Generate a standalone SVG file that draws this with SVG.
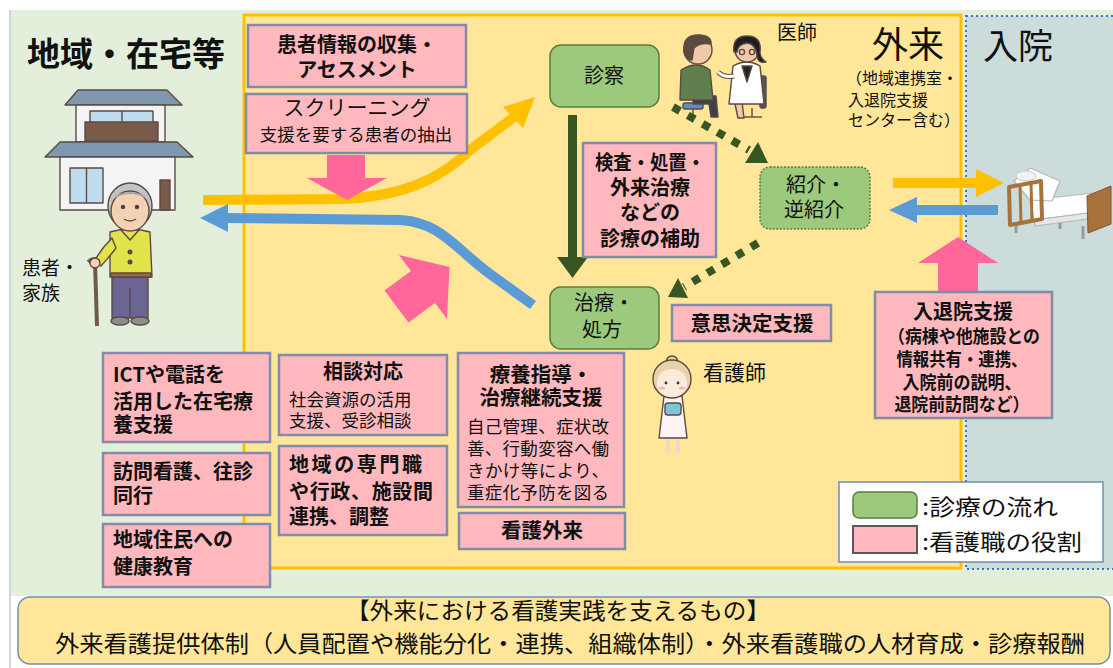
<svg xmlns="http://www.w3.org/2000/svg" width="1113" height="668" viewBox="0 0 1113 668">
<style>
  text { font-family: "Noto Sans CJK JP", "Noto Sans", sans-serif; fill: #111; }
  .role { fill: #FFB9BE; stroke: #7F8CAB; stroke-width: 2.5; }
  .flow { fill: #9DC97C; stroke: #5A7F3C; stroke-width: 1.5; }
  .b20 { font-size: 20px; font-weight: bold; }
  .b21 { font-size: 20.5px; font-weight: bold; }
  .n17 { font-size: 17.5px; }
  .n20 { font-size: 20px; }
  .c { text-anchor: middle; }
  .pinkArrow { fill: #FF6699; }
  .dots { fill: none; stroke: #375623; stroke-width: 8; stroke-dasharray: 8 9; }
  .outline { stroke: #5b4a44; stroke-width: 1.4; stroke-linejoin: round; }
</style>

<!-- backgrounds -->
<rect x="0" y="0" width="1113" height="668" fill="#FFFFFF"/>
<rect x="11" y="10" width="1102" height="586" fill="#E3EFDB"/>
<line x1="10" y1="10" x2="10" y2="668" stroke="#C8C8C8" stroke-width="1.5"/>
<g id="outpatient-area">
  <rect x="244" y="15" width="717" height="553" fill="#FFE699" stroke="#FFC000" stroke-width="3"/>
</g>
<g id="inpatient-area">
  <rect x="966" y="16" width="150" height="553" fill="#CCDCDB" stroke="#4472C4" stroke-width="2" stroke-dasharray="2 3"/>
</g>

<!-- area titles -->
<text x="27" y="66" font-size="33" font-weight="bold">地域・在宅等</text>
<text x="872" y="58" font-size="36">外来</text>
<text x="983" y="59" font-size="35">入院</text>
<text font-size="16"><tspan x="846" y="84">（地域連携室・</tspan><tspan x="848" y="106">入退院支援</tspan><tspan x="848" y="126">センター含む）</tspan></text>
<text x="777" y="40" font-size="20">医師</text>
<text font-size="19"><tspan x="22" y="275">患者・</tspan><tspan x="22" y="300">家族</tspan></text>
<text x="703" y="380" font-size="21">看護師</text>

<!-- house -->
<g id="house" class="outline">
  <polygon points="78,90 167,90 182,105 65,105" fill="#7F97AF"/>
  <rect x="76" y="105" width="89" height="37" fill="#F4F4F4"/>
  <rect x="90" y="111" width="63" height="13" fill="#BFDDEF"/>
  <line x1="122" y1="111" x2="122" y2="124"/>
  <rect x="85" y="122" width="73" height="19" fill="#7A5A48"/>
  <polygon points="60,142 177,142 193,157 45,157" fill="#7F97AF"/>
  <rect x="60" y="157" width="115" height="53" fill="#F4F4F4"/>
  <rect x="70" y="168" width="33" height="35" fill="#BFDDEF"/>
  <line x1="86.5" y1="168" x2="86.5" y2="203"/>
  <rect x="160" y="180" width="10" height="30" fill="#7A5A48"/>
</g>

<!-- elderly patient -->
<g id="patient-family" class="outline">
  <line x1="95" y1="262" x2="97" y2="326" stroke="#6E5A4A" stroke-width="4"/>
  <path d="M88,262 Q95,256 100,262" fill="none" stroke="#6E5A4A" stroke-width="4"/>
  <rect x="112" y="276" width="36" height="42" fill="#6B6593"/>
  <line x1="130" y1="288" x2="130" y2="318"/>
  <ellipse cx="120" cy="321" rx="9" ry="4" fill="#8E8E8E"/>
  <ellipse cx="140" cy="321" rx="9" ry="4" fill="#8E8E8E"/>
  <path d="M110,232 Q130,226 150,232 L152,277 L110,277 Z" fill="#E2E34A"/>
  <path d="M112,238 Q100,250 94,262 L101,266 Q110,256 116,248 Z" fill="#E2E34A"/>
  <circle cx="95" cy="263" r="5" fill="#F3D2B4"/>
  <path d="M121,230 L130,240 L139,230 Z" fill="#E2E34A"/>
  <circle cx="130" cy="252" r="1.8" fill="#5b4a44"/>
  <circle cx="130" cy="262" r="1.8" fill="#5b4a44"/>
  <rect x="111" y="273" width="40" height="4" fill="#9A6A45"/>
  <ellipse cx="130" cy="206" rx="22" ry="23" fill="#C4C4C4"/>
  <ellipse cx="130" cy="211" rx="19" ry="20" fill="#F3D2B4"/>
  <path d="M115,197 Q130,189 145,197" fill="none" stroke="#A8A8A8" stroke-width="2"/>
  <circle cx="123" cy="207" r="1.6" fill="#333"/>
  <circle cx="137" cy="207" r="1.6" fill="#333"/>
  <path d="M124,219 Q130,223 136,219" fill="none"/>
</g>

<!-- doctor and patient -->
<g id="doctor-patient" class="outline">
  <rect x="683" y="103" width="20" height="6" rx="2" fill="#5B8FC9"/>
  <line x1="693" y1="109" x2="693" y2="118"/>
  <path d="M693,96 L716,96 L718,117 L711,117 L709,104 L693,104 Z" fill="#3F3F4A"/>
  <path d="M681,70 Q697,60 710,70 L713,100 L680,100 Z" fill="#5F7F4E"/>
  <circle cx="698" cy="50" r="14" fill="#F2C9A8"/>
  <path d="M684,52 Q682,34 700,35 Q712,36 711,44 Q700,42 694,48 L692,60 Q686,60 684,52 Z" fill="#5B4A3F"/>
  <rect x="760" y="76" width="6" height="32" rx="2" fill="#555"/>
  <line x1="752" y1="108" x2="752" y2="117"/>
  <line x1="744" y1="117" x2="762" y2="117"/>
  <path d="M742,102 L744,118 L738,118 L735,104 Z" fill="#F2C9A8"/>
  <path d="M733,66 Q747,58 760,66 L764,104 L729,104 Z" fill="#FFFFFF"/>
  <path d="M742,66 L747,82 L752,66 Z" fill="#222"/>
  <path d="M734,76 Q724,78 718,72" fill="none" stroke="#5b4a44" stroke-width="5"/>
  <path d="M734,76 Q724,78 718,72" fill="none" stroke="#FFFFFF" stroke-width="3"/>
  <circle cx="747" cy="50" r="12" fill="#F2C9A8"/>
  <path d="M734,52 Q732,36 747,36 Q762,36 760,52 Q760,58 766,62 Q758,64 757,56 Q756,44 747,43 Q738,44 737,52 Z" fill="#1E1E1E"/>
  <circle cx="742" cy="52" r="2.6" fill="none"/>
  <circle cx="752" cy="52" r="2.6" fill="none"/>
</g>

<!-- bed -->
<g id="bed" stroke-linejoin="round">
  <line x1="1016" y1="222" x2="1016" y2="233" stroke="#9A9A9A" stroke-width="3"/>
  <line x1="1060" y1="218" x2="1060" y2="229" stroke="#9A9A9A" stroke-width="3"/>
  <line x1="1083" y1="226" x2="1083" y2="239" stroke="#9A9A9A" stroke-width="3"/>
  <!-- mattress -->
  <polygon points="1030,200 1094,193 1096,212 1034,220" fill="#FFFFFF" stroke="#B5B5B5" stroke-width="1.2"/>
  <polygon points="1034,220 1096,212 1096,218 1035,226" fill="#E6E6E6" stroke="#B5B5B5" stroke-width="1.2"/>
  <!-- raised back section -->
  <polygon points="1014,181 1030,168 1060,181 1052,201 1030,200" fill="#FFFFFF" stroke="#B5B5B5" stroke-width="1.2"/>
  <ellipse cx="1026" cy="176" rx="10" ry="5" fill="#F2F2F2" stroke="#C8C8C8" stroke-width="1"/>
  <!-- side rail at the head end -->
  <path d="M1009,187 L1041,181 L1042,219 L1010,225 Z" fill="none" stroke="#A8733A" stroke-width="4"/>
  <line x1="1020" y1="185" x2="1021" y2="223" stroke="#A8733A" stroke-width="3"/>
  <line x1="1031" y1="183" x2="1032" y2="221" stroke="#A8733A" stroke-width="3"/>
  <!-- footboard -->
  <polygon points="1087,196 1111,186 1111,224 1088,233" fill="#A8733A" stroke="#7A5530" stroke-width="1"/>
</g>

<!-- nurse -->
<g id="nurse" class="outline" stroke="#C9A97E">
  <line x1="668" y1="436" x2="668" y2="454" stroke-width="4" stroke="#F3D8C8"/>
  <line x1="678" y1="436" x2="678" y2="454" stroke-width="4" stroke="#F3D8C8"/>
  <path d="M664,396 L682,396 L687,438 L659,438 Z" fill="#FDF3F3"/>
  <rect x="665" y="403" width="16" height="12" rx="3" fill="#7FC4D8"/>
  <circle cx="672" cy="362" r="6" fill="#E8D2A8"/>
  <circle cx="672" cy="379" r="19" fill="#E8D2A8"/>
  <ellipse cx="672" cy="383" rx="15" ry="14" fill="#FCEBDC" stroke="none"/>
  <circle cx="666" cy="383" r="1.4" fill="#333" stroke="none"/>
  <circle cx="678" cy="383" r="1.4" fill="#333" stroke="none"/>
  <ellipse cx="662" cy="388" rx="3" ry="1.6" fill="#F5B5B5" stroke="none"/>
  <ellipse cx="682" cy="388" rx="3" ry="1.6" fill="#F5B5B5" stroke="none"/>
</g>

<!-- connectors -->
<g id="connectors">
  <!-- patient to outpatient (yellow) -->
  <path d="M203,200 L340,199 C400,197 440,180 470,150 L518,114" fill="none" stroke="#FFC000" stroke-width="10"/>
  <polygon points="535,97 523,128 503,107" fill="#FFC000"/>
  <!-- back home (blue) -->
  <path d="M533,305 L490,274 C455,248 440,222 400,220 L226,218" fill="none" stroke="#5B9BD5" stroke-width="10"/>
  <polygon points="200,218 228,204 228,232" fill="#5B9BD5"/>
  <!-- to and from ward -->
  <line x1="893" y1="183" x2="980" y2="183" stroke="#FFC000" stroke-width="10"/>
  <polygon points="1004,183 976,169 976,197" fill="#FFC000"/>
  <line x1="998" y1="210" x2="914" y2="210" stroke="#5B9BD5" stroke-width="10"/>
  <polygon points="889,210 917,197 917,223" fill="#5B9BD5"/>
  <!-- care flow -->
  <rect x="568" y="115" width="9" height="144" fill="#375623"/>
  <polygon points="557,257 588,257 572.5,278" fill="#375623"/>
  <path class="dots" d="M673,107 L749,150"/>
  <polygon points="768,163 745,163 758,142" fill="#375623"/>
  <path class="dots" d="M758,243 L684,287"/>
  <polygon points="668,297 678,278 688,298" fill="#375623"/>
  <!-- nursing role arrows -->
  <polygon class="pinkArrow" points="327,155 365,155 365,178 387,178 347,200 307,178 327,178"/>
  <polygon class="pinkArrow" points="384.5,290.5 411,271 399,255 449.5,267 447,319 435,303 408.5,322.5"/>
  <polygon class="pinkArrow" points="938,292 938,263 918,263 958,237 998,263 978,263 978,292"/>
</g>

<!-- care flow nodes -->
<g id="node-shinsatsu">
  <rect class="flow" x="550" y="45" width="109" height="62" rx="11"/>
  <text class="c" x="604" y="83" font-size="20">診察</text>
</g>
<g id="node-chiryo">
  <rect class="flow" x="550" y="287" width="109" height="62" rx="11"/>
  <text class="c n20"><tspan x="604" y="310">治療・</tspan><tspan x="602" y="337">処方</tspan></text>
</g>
<g id="node-shokai">
  <rect class="flow" x="760" y="167" width="110" height="62" rx="10" stroke-dasharray="2 1.5"/>
  <text class="c n20"><tspan x="816" y="192">紹介・</tspan><tspan x="814" y="217">逆紹介</tspan></text>
</g>

<!-- nursing roles -->
<g id="role-assessment">
  <rect class="role" x="248" y="25" width="218" height="62"/>
  <text class="c b20"><tspan x="357" y="52">患者情報の収集・</tspan><tspan x="357" y="77">アセスメント</tspan></text>
</g>
<g id="role-screening">
  <rect class="role" x="246" y="94" width="221" height="59"/>
  <text class="c" x="357" y="115" font-size="21">スクリーニング</text>
  <text class="c" x="356" y="141" font-size="17.5">支援を要する患者の抽出</text>
</g>
<g id="role-assist">
  <rect class="role" x="583" y="143" width="133" height="114"/>
  <text class="c b20"><tspan x="650" y="170" textLength="110" lengthAdjust="spacingAndGlyphs">検査・処置・</tspan><tspan x="650" y="195">外来治療</tspan><tspan x="650" y="220">などの</tspan><tspan x="650" y="246">診療の補助</tspan></text>
</g>
<g id="role-decision">
  <rect class="role" x="672" y="305" width="159" height="36"/>
  <text class="c b21" x="752" y="331">意思決定支援</text>
</g>
<g id="role-guidance">
  <rect class="role" x="458" y="353" width="166" height="154"/>
  <text class="c b21"><tspan x="541" y="382">療養指導・</tspan><tspan x="541" y="405">治療継続支援</tspan></text>
  <text class="n17"><tspan x="467" y="433" textLength="142">自己管理、症状改</tspan><tspan x="467" y="455" textLength="142">善、行動変容へ働</tspan><tspan x="467" y="477" textLength="142">きかけ等により、</tspan><tspan x="467" y="499" textLength="142">重症化予防を図る</tspan></text>
</g>
<g id="role-nursing-outpatient">
  <rect class="role" x="459" y="513" width="166" height="36"/>
  <text class="c b21" x="542" y="538">看護外来</text>
</g>
<g id="role-ict">
  <rect class="role" x="103" y="353" width="167" height="89"/>
  <text class="b20"><tspan x="113" y="382">ICTや電話を</tspan><tspan x="113" y="409">活用した在宅療</tspan><tspan x="113" y="432">養支援</tspan></text>
</g>
<g id="role-visit">
  <rect class="role" x="103" y="453" width="167" height="62"/>
  <text class="b20"><tspan x="113" y="479">訪問看護、往診</tspan><tspan x="113" y="503">同行</tspan></text>
</g>
<g id="role-education">
  <rect class="role" x="103" y="524" width="167" height="63"/>
  <text class="b20"><tspan x="113" y="547">地域住民への</tspan><tspan x="113" y="574">健康教育</tspan></text>
</g>
<g id="role-consult">
  <rect class="role" x="279" y="355" width="168" height="80"/>
  <text class="c b20" x="363" y="379">相談対応</text>
  <text class="n17"><tspan x="289" y="406">社会資源の活用</tspan><tspan x="289" y="427">支援、受診相談</tspan></text>
</g>
<g id="role-coordination">
  <rect class="role" x="279" y="446" width="168" height="89"/>
  <text class="b20"><tspan x="289" y="472" textLength="133">地域の専門職</tspan><tspan x="289" y="499" textLength="144">や行政、施設間</tspan><tspan x="289" y="524">連携、調整</tspan></text>
</g>
<g id="role-admission">
  <rect class="role" x="875" y="292" width="177" height="126"/>
  <text class="c b20" x="963" y="319">入退院支援</text>
  <text class="c" font-size="18" font-weight="bold"><tspan x="964" y="343" textLength="152" lengthAdjust="spacingAndGlyphs">（病棟や他施設との</tspan><tspan x="962" y="366" textLength="131" lengthAdjust="spacingAndGlyphs">情報共有・連携、</tspan><tspan x="962" y="389" textLength="119" lengthAdjust="spacingAndGlyphs">入院前の説明、</tspan><tspan x="962" y="411" textLength="135" lengthAdjust="spacingAndGlyphs">退院前訪問など）</tspan></text>
</g>

<!-- legend -->
<g id="legend">
  <rect x="839" y="482" width="264" height="80" fill="#FFFFFF" stroke="#6F8FAF" stroke-width="1.5"/>
  <rect x="853" y="492" width="64" height="26" rx="6" fill="#9DC97C" stroke="#5A7F3C" stroke-width="1.5"/>
  <rect x="853" y="526" width="64" height="27" fill="#FFB9BE" stroke="#595959" stroke-width="2"/>
  <text x="922" y="515" font-size="22" textLength="136" lengthAdjust="spacingAndGlyphs">:診療の流れ</text>
  <text x="922" y="550" font-size="22" textLength="160" lengthAdjust="spacingAndGlyphs">:看護職の役割</text>
</g>

<!-- foundation banner -->
<g id="foundation">
  <rect x="18" y="597" width="1092" height="67" rx="12" fill="#FFE699" stroke="#6F8FAF" stroke-width="1.5"/>
  <text class="c" x="558" y="619" font-size="23" textLength="424" lengthAdjust="spacingAndGlyphs">【外来における看護実践を支えるもの】</text>
  <text class="c" x="570" y="652" font-size="23" textLength="1030" lengthAdjust="spacingAndGlyphs">外来看護提供体制（人員配置や機能分化・連携、組織体制）・外来看護職の人材育成・診療報酬</text>
</g>
</svg>
